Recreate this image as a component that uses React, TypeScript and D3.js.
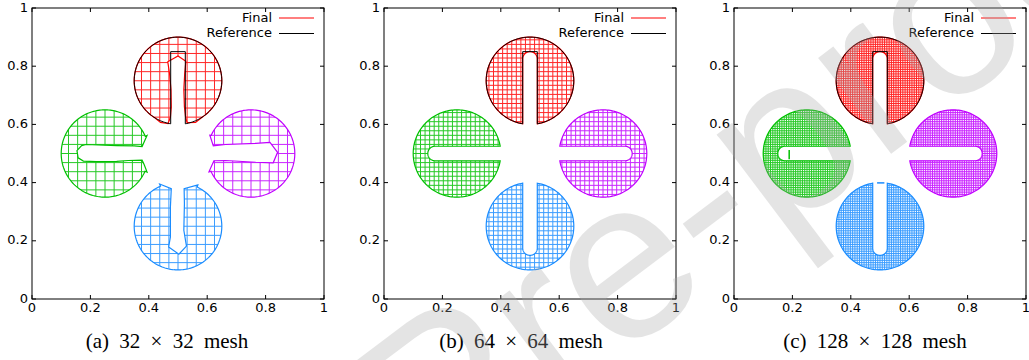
import React from "react";
import * as d3 from "d3";

type Pt = [number, number];

// axes
const tickValues = [0, 0.2, 0.4, 0.6, 0.8, 1];
const tickLabels = ["0", "0.2", "0.4", "0.6", "0.8", "1"];

// panels
const meshSizes = [32, 64, 128];
const captions = ["(a) 32 × 32 mesh", "(b) 64 × 64 mesh", "(c) 128 × 128 mesh"];
const captionX = [167, 521, 875];
const panelLeft = [32, 384, 734];
const panelWidth = 292;
const panelTop = 8;
const panelBottom = 299;

const legendNames = ["Final", "Reference"];
const legendColors = ["#ff0000", "#000000"];

// the four slotted disks
const diskColors = ["#ff0000", "#00c000", "#c000ff", "#1a8cff"];
const diskCenters: Pt[] = [[0.5, 0.75], [0.25, 0.5], [0.75, 0.5], [0.5, 0.25]];
const diskRotations = [0, 90, -90, 180];
const diskRadius = 0.15;
const slotHalfWidth = 0.025;
const slotTip = 0.1; // slot end, measured from the disk centre

// 32x32 mesh: rim arc (degrees) and the traced slot outline
const coarseArcs: Pt[] = [[-55, 238], [23.3, 336], [204.1, 515.4], [113.6, 424]];
const coarseSlotRed: Pt[] = [
  [0.44, 0.607], [0.466, 0.603], [0.474, 0.625], [0.477, 0.66], [0.476, 0.72],
  [0.471, 0.775], [0.465, 0.815], [0.5, 0.835], [0.527, 0.817], [0.523, 0.775],
  [0.52, 0.72], [0.522, 0.66], [0.526, 0.625], [0.531, 0.606], [0.56, 0.607],
];
const coarseSlotGreen: Pt[] = [
  [0.394, 0.436], [0.384, 0.462], [0.377, 0.477], [0.33, 0.476], [0.29, 0.473],
  [0.22, 0.472], [0.176, 0.474], [0.158, 0.485], [0.154, 0.51], [0.17, 0.527],
  [0.185, 0.531], [0.29, 0.527], [0.35, 0.526], [0.377, 0.524], [0.394, 0.562],
];
const coarseSlotMagenta: Pt[] = [
  [0.609, 0.563], [0.621, 0.526], [0.663, 0.531], [0.766, 0.535], [0.815, 0.538],
  [0.841, 0.504], [0.826, 0.468], [0.766, 0.47], [0.663, 0.476], [0.623, 0.475],
  [0.606, 0.437],
];
const coarseSlotBlue: Pt[] = [
  [0.568, 0.392], [0.521, 0.379], [0.522, 0.328], [0.52, 0.236], [0.529, 0.182],
  [0.503, 0.154], [0.468, 0.179], [0.474, 0.213], [0.474, 0.316], [0.477, 0.379],
  [0.437, 0.395],
];
const coarseSlots = [coarseSlotRed, coarseSlotGreen, coarseSlotMagenta, coarseSlotBlue];

// 128x128 mesh: stray cells left inside the slots
const strayGreen: Pt[] = [[0.189, 0.48], [0.189, 0.512]];
const strayBlue: Pt[] = [[0.49, 0.399], [0.515, 0.399]];

const rad = Math.PI / 180;

function arcPts(c: Pt, r: number, a0: number, a1: number): Pt[] {
  const n = Math.ceil(Math.abs(a1 - a0) / 2);
  return d3.range(n + 1).map((i) => {
    const a = (a0 + ((a1 - a0) * i) / n) * rad;
    return [c[0] + r * Math.cos(a), c[1] + r * Math.sin(a)] as Pt;
  });
}

// disk with slot opening downwards, in local coordinates
function slottedDisk(rounded: boolean): Pt[] {
  const r = diskRadius;
  const w = slotHalfWidth;
  const h = Math.sqrt(r * r - w * w);
  const a0 = Math.atan2(-h, w) / rad;
  const rim = arcPts([0, 0], r, a0, 180 - a0);
  const end: Pt[] = rounded
    ? arcPts([0, slotTip - w], w, 180, 0)
    : [[-w, slotTip], [w, slotTip]];
  return [...rim, [-w, -h], ...end, [w, -h]];
}

function place(pts: Pt[], c: Pt, deg: number): Pt[] {
  const co = Math.cos(deg * rad);
  const s = Math.sin(deg * rad);
  return pts.map(([x, y]) => [c[0] + x * co - y * s, c[1] + x * s + y * co] as Pt);
}

function Panel({ idx }: { idx: number }) {
  const left = panelLeft[idx];
  const right = left + panelWidth;
  const x = d3.scaleLinear().domain([0, 1]).range([left, right]);
  const y = d3.scaleLinear().domain([0, 1]).range([panelBottom, panelTop]);
  const closed = d3.line<Pt>().x((d) => x(d[0])).y((d) => y(d[1])).curve(d3.curveLinearClosed);
  const open = d3.line<Pt>().x((d) => x(d[0])).y((d) => y(d[1]));
  const n = meshSizes[idx];
  const grid = d3.range(n + 1).map((k) => k / n);

  const finals = diskCenters.map((c, i) =>
    idx === 0
      ? [...arcPts(c, diskRadius, coarseArcs[i][0], coarseArcs[i][1]), ...coarseSlots[i]]
      : place(slottedDisk(true), c, diskRotations[i])
  );
  const reference = place(slottedDisk(false), diskCenters[0], 0);
  const pad = diskRadius + 0.02;

  return (
    <g>
      <defs>
        {finals.map((pts, i) => (
          <clipPath id={`clip-${idx}-${i}`} key={i}>
            <path d={closed(pts)!} />
          </clipPath>
        ))}
      </defs>

      {finals.map((pts, i) => {
        const c = diskCenters[i];
        const gx = grid.filter((g) => g > c[0] - pad && g < c[0] + pad);
        const gy = grid.filter((g) => g > c[1] - pad && g < c[1] + pad);
        return (
          <g key={i}>
            <g clipPath={`url(#clip-${idx}-${i})`} stroke={diskColors[i]} strokeWidth={1} opacity={0.85}>
              {gx.map((g) => (
                <line key={`v${g}`} x1={x(g)} x2={x(g)} y1={y(c[1] - pad)} y2={y(c[1] + pad)} />
              ))}
              {gy.map((g) => (
                <line key={`h${g}`} y1={y(g)} y2={y(g)} x1={x(c[0] - pad)} x2={x(c[0] + pad)} />
              ))}
            </g>
            <path d={closed(pts)!} fill="none" stroke={diskColors[i]} strokeWidth={1.2} />
          </g>
        );
      })}

      <path d={closed(reference)!} fill="none" stroke="#000" strokeWidth={1} />

      {idx === 2 && (
        <g strokeWidth={1.5}>
          <path d={open(strayGreen)!} stroke={diskColors[1]} />
          <path d={open(strayBlue)!} stroke={diskColors[3]} />
        </g>
      )}

      {/* frame and ticks */}
      <rect x={left} y={panelTop} width={panelWidth} height={panelBottom - panelTop} fill="none" stroke="#000" strokeWidth={1} />
      <g stroke="#000" strokeWidth={1}>
        {tickValues.map((t) => (
          <g key={t}>
            <line x1={x(t)} x2={x(t)} y1={panelBottom} y2={panelBottom - 4} />
            <line x1={x(t)} x2={x(t)} y1={panelTop} y2={panelTop + 4} />
            <line y1={y(t)} y2={y(t)} x1={left} x2={left + 4} />
            <line y1={y(t)} y2={y(t)} x1={right} x2={right - 4} />
          </g>
        ))}
      </g>
      <g fontFamily="DejaVu Sans" fontSize={13} fill="#000">
        {tickValues.map((t, i) => (
          <text key={`x${t}`} x={x(t)} y={panelBottom + 13} textAnchor="middle">
            {tickLabels[i]}
          </text>
        ))}
        {tickValues.map((t, i) => (
          <text key={`y${t}`} x={left - 4} y={y(t)} textAnchor="end" dominantBaseline="middle">
            {tickLabels[i]}
          </text>
        ))}
      </g>

      {/* legend */}
      <g fontFamily="DejaVu Sans" fontSize={13}>
        {legendNames.map((name, i) => (
          <g key={name}>
            <text x={right - 52} y={panelTop + 10 + i * 15.5} textAnchor="end" dominantBaseline="middle">
              {name}
            </text>
            <line x1={right - 45} x2={right - 10} y1={panelTop + 10 + i * 15.5} y2={panelTop + 10 + i * 15.5} stroke={legendColors[i]} strokeWidth={1.2} />
          </g>
        ))}
      </g>

      <text x={captionX[idx]} y={348} textAnchor="middle" fontFamily="Liberation Serif" fontSize={21} wordSpacing={5}>
        {captions[idx]}
      </text>
    </g>
  );
}

export default function App() {
  return (
    <svg width={1029} height={360} style={{ position: "absolute", left: 0, top: 0, background: "#fff" }}>
      <rect width={1029} height={360} fill="#fff" />
      {meshSizes.map((_, i) => (
        <Panel key={i} idx={i} />
      ))}
      {/* journal watermark */}
      <g transform="translate(770,200) rotate(-37)" pointerEvents="none">
        <text x={-1260} y={36} fontFamily="Liberation Sans" fontSize={228} fill="#a8a8a8" opacity={0.3}>
          Journal Pre-proof
        </text>
      </g>
    </svg>
  );
}
